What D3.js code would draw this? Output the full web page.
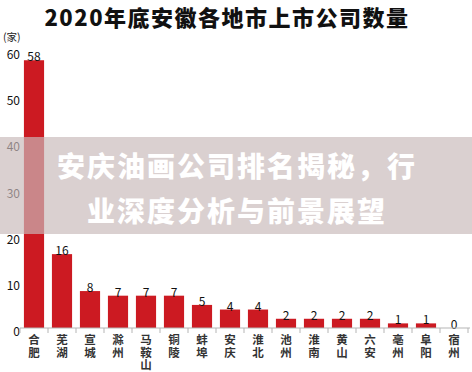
<!DOCTYPE html>
<html>
<head>
<meta charset="utf-8">
<script src="https://cdn.jsdelivr.net/npm/d3@7"></script>
<style>
body { margin: 0; background: #fff; }
svg { display: block; font-family: "Noto Sans CJK SC", "Noto Sans", sans-serif; }
</style>
</head>
<body>
<svg width="472" height="372"></svg>
<script>
// data
var cities = ["合肥","芜湖","宣城","滁州","马鞍山","铜陵","蚌埠","安庆","淮北","池州","淮南","黄山","六安","亳州","阜阳","宿州"];
var counts = [58,16,8,7,7,7,5,4,4,2,2,2,2,1,1,0];
var yTicks = [0,10,20,30,40,50,60];

var svg = d3.select("svg");

var x = d3.scaleBand()
    .domain(cities)
    .range([20, 468])
    .paddingInner(0.28)
    .paddingOuter(0.14);

var y = d3.scaleLinear()
    .domain([0, 60])
    .range([328, 51]);

// title
svg.append("text")
    .attr("x", 227)
    .attr("y", 26)
    .attr("text-anchor", "middle")
    .attr("font-size", "22px")
    .attr("font-weight", "900")
    .attr("letter-spacing", "1.5px")
    .attr("fill", "#111")
    .text("2020年底安徽各地市上市公司数量");

svg.append("text")
    .attr("x", 3)
    .attr("y", 41)
    .attr("font-size", "10.5px")
    .attr("fill", "#222")
    .text("(家)");

// y labels (no axis line)
svg.selectAll(".ylab")
    .data(yTicks)
    .enter()
    .append("text")
    .attr("class", "ylab")
    .attr("x", 20)
    .attr("y", function(d){ return y(d) + 8; })
    .attr("text-anchor", "end")
    .attr("font-size", "12px")
    .attr("fill", "#111")
    .text(function(d){ return d; });

// bars
svg.selectAll(".bar")
    .data(counts)
    .enter()
    .append("rect")
    .attr("class", "bar")
    .attr("x", function(d,i){ return x(cities[i]); })
    .attr("width", x.bandwidth())
    .attr("y", function(d){ return y(d); })
    .attr("height", function(d){ return y(0) - y(d); })
    .attr("fill", "#cc1a22");

// value labels
svg.selectAll(".val")
    .data(counts)
    .enter()
    .append("text")
    .attr("class", "val")
    .attr("x", function(d,i){ return x(cities[i]) + x.bandwidth()/2; })
    .attr("y", function(d){ return y(d) + 1; })
    .attr("text-anchor", "middle")
    .attr("font-size", "12px")
    .attr("fill", "#111")
    .text(function(d){ return d; });

// x axis baseline + separators
svg.append("line")
    .attr("x1", 20).attr("x2", 470)
    .attr("y1", y(0)).attr("y2", y(0))
    .attr("stroke", "#b5b5b5");

var seps = cities.map(function(c){ return x(c) - x.step()*x.paddingInner()/2; });
seps.push(468);
svg.selectAll(".sep")
    .data(seps)
    .enter()
    .append("line")
    .attr("class", "sep")
    .attr("x1", function(d){ return d; })
    .attr("x2", function(d){ return d; })
    .attr("y1", y(0))
    .attr("y2", y(0) + 5)
    .attr("stroke", "#b5b5b5");

// vertical category labels, one text each
svg.selectAll(".cat")
    .data(cities)
    .enter()
    .append("text")
    .attr("class", "cat")
    .attr("x", function(d){ return x(d) + x.bandwidth()/2; })
    .attr("y", 334)
    .style("writing-mode", "vertical-rl")
    .style("text-orientation", "upright")
    .attr("letter-spacing", "1px")
    .attr("font-size", "11.5px")
    .attr("font-weight", "bold")
    .attr("fill", "#333")
    .text(function(d){ return d; });

// overlay banner
svg.append("rect")
    .attr("x", 0).attr("y", 137)
    .attr("width", 472).attr("height", 97)
    .attr("fill", "rgb(200,186,186)")
    .attr("opacity", 0.68);

var lines = ["安庆油画公司排名揭秘，行", "业深度分析与前景展望"];
svg.selectAll(".ban")
    .data(lines)
    .enter()
    .append("text")
    .attr("class", "ban")
    .attr("x", 237)
    .attr("y", function(d,i){ return 177 + i*45; })
    .attr("text-anchor", "middle")
    .attr("font-size", "28px")
    .attr("font-weight", "900")
    .attr("letter-spacing", "2px")
    .attr("fill", "#fff")
    .text(function(d){ return d; });
</script>
</body>
</html>
